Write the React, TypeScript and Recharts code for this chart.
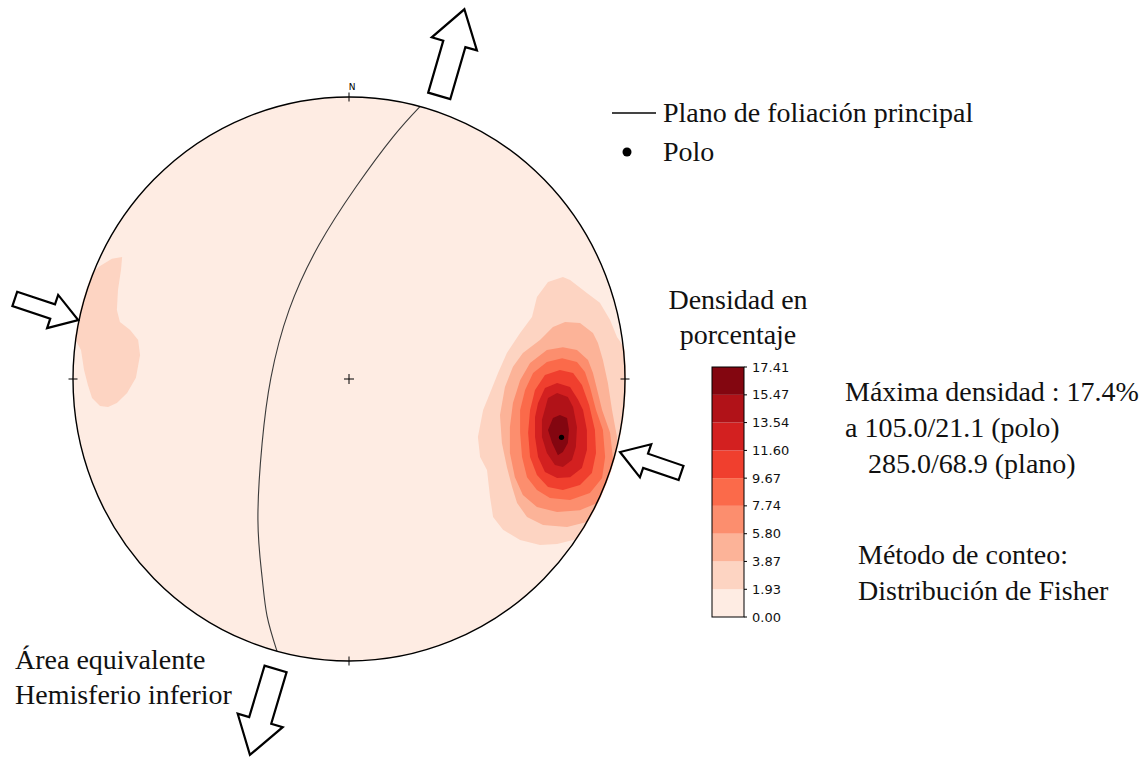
import React from 'react'
import { ScatterChart, Scatter, XAxis, YAxis, BarChart, Bar } from 'recharts'

const W = 1148
const H = 757
// where the net sits on the page: centre and radii in px
const CX = 349
const CY = 379
const RX = 276
const RY = 282

const LEVELS = [0, 1.93, 3.87, 5.8, 7.74, 9.67, 11.6, 13.54, 15.47, 17.41]
const COLORS = ['#feece3', '#fdd4c2', '#fcb398', '#fc8e6e', '#fb6a4a', '#f03f2e', '#d32020', '#b11218', '#830610']

// density contours, equal-area net coordinates (unit circle, N up)
const C1_WEST = [[-0.822, 0.433], [-0.859, 0.426], [-0.902, 0.401], [-0.946, 0.365], [-1.047, 0.316], [-1.011, 0.174], [-0.971, 0.103], [-0.96, 0.032], [-0.946, -0.021], [-0.931, -0.067], [-0.902, -0.096], [-0.873, -0.099], [-0.841, -0.085], [-0.804, -0.05], [-0.772, 0.004], [-0.757, 0.085], [-0.764, 0.138], [-0.793, 0.174], [-0.83, 0.202], [-0.841, 0.245], [-0.837, 0.316], [-0.826, 0.387]]
const C1_EAST = [[0.775, 0.362], [0.801, 0.351], [0.862, 0.305], [0.909, 0.27], [0.946, 0.209], [0.971, 0.149], [1.054, 0.032], [1.054, -0.429], [0.909, -0.553], [0.812, -0.571], [0.754, -0.585], [0.692, -0.589], [0.62, -0.571], [0.558, -0.535], [0.522, -0.489], [0.511, -0.418], [0.5, -0.323], [0.475, -0.277], [0.467, -0.206], [0.486, -0.11], [0.511, -0.05], [0.54, 0.021], [0.572, 0.092], [0.62, 0.163], [0.663, 0.22], [0.681, 0.291], [0.721, 0.344]]
const C2 = [[0.783, 0.202], [0.837, 0.199], [0.884, 0.163], [0.902, 0.128], [0.92, 0.067], [0.938, -0.014], [0.953, -0.11], [0.971, -0.206], [0.971, -0.312], [0.957, -0.394], [0.92, -0.465], [0.862, -0.507], [0.79, -0.525], [0.703, -0.518], [0.645, -0.489], [0.609, -0.44], [0.591, -0.383], [0.572, -0.312], [0.554, -0.227], [0.547, -0.128], [0.565, -0.028], [0.594, 0.043], [0.63, 0.092], [0.692, 0.138], [0.739, 0.184]]
const C3 = [[0.775, 0.113], [0.826, 0.103], [0.866, 0.067], [0.884, 0.021], [0.902, -0.05], [0.917, -0.11], [0.946, -0.191], [0.957, -0.287], [0.946, -0.383], [0.909, -0.436], [0.837, -0.465], [0.754, -0.472], [0.681, -0.454], [0.63, -0.411], [0.601, -0.348], [0.583, -0.262], [0.583, -0.17], [0.594, -0.085], [0.62, -0.004], [0.656, 0.057], [0.717, 0.103]]
const C4 = [[0.772, 0.074], [0.826, 0.06], [0.855, 0.025], [0.873, -0.028], [0.895, -0.11], [0.92, -0.181], [0.928, -0.277], [0.917, -0.351], [0.873, -0.404], [0.801, -0.429], [0.728, -0.422], [0.681, -0.394], [0.645, -0.348], [0.627, -0.277], [0.62, -0.191], [0.62, -0.11], [0.638, -0.039], [0.667, 0.021], [0.717, 0.06]]
const C5 = [[0.764, 0.032], [0.812, 0.021], [0.844, -0.021], [0.87, -0.092], [0.891, -0.181], [0.895, -0.262], [0.88, -0.333], [0.837, -0.376], [0.775, -0.394], [0.721, -0.383], [0.681, -0.34], [0.656, -0.277], [0.649, -0.191], [0.656, -0.11], [0.674, -0.039], [0.71, 0.014]]
const C6 = [[0.754, -0.014], [0.801, -0.028], [0.83, -0.074], [0.848, -0.11], [0.862, -0.181], [0.862, -0.252], [0.844, -0.316], [0.801, -0.348], [0.754, -0.351], [0.71, -0.33], [0.685, -0.277], [0.674, -0.206], [0.674, -0.135], [0.685, -0.085], [0.71, -0.032]]
const C7 = [[0.754, -0.05], [0.793, -0.064], [0.812, -0.099], [0.826, -0.17], [0.822, -0.241], [0.808, -0.287], [0.775, -0.312], [0.746, -0.305], [0.717, -0.262], [0.699, -0.206], [0.699, -0.145], [0.721, -0.067]]
const C8 = [[0.764, -0.128], [0.79, -0.138], [0.797, -0.181], [0.793, -0.227], [0.775, -0.259], [0.757, -0.27], [0.736, -0.227], [0.721, -0.181], [0.739, -0.138]]

// [level index, polygon]
const CONTOURS: [number, number[][]][] = [
  [1, C1_WEST], [1, C1_EAST], [2, C2], [3, C3], [4, C4], [5, C5], [6, C6], [7, C7], [8, C8],
]

// main foliation plane 285/68.9 as drawn
const FOLIATION = [[0.257, 0.966], [0.159, 0.858], [0.025, 0.681], [-0.109, 0.475], [-0.217, 0.245], [-0.283, 0.004], [-0.315, -0.23], [-0.33, -0.5], [-0.315, -0.702], [-0.297, -0.84], [-0.261, -0.965]]
const POLE = [[0.77, -0.207]]

const FRAME = [[-1, 1], [1, -1]]
const CARDINALS = [
  { x: 0, y: 1, d: 'v', label: 'N' },
  { x: 1, y: 0, d: 'h', label: '' },
  { x: 0, y: -1, d: 'v', label: '' },
  { x: -1, y: 0, d: 'h', label: '' },
]
const CENTER = [[0, 0]]

// stress arrows: [tail, tip]
const ARROW_OUT_N = [[0.327, 1.004], [0.418, 1.311]]
const ARROW_OUT_S = [[-0.266, -1.028], [-0.359, -1.333]]
const ARROW_IN_W = [[-1.211, 0.284], [-0.981, 0.209]]
const ARROW_IN_E = [[1.203, -0.333], [0.982, -0.259]]

const pts = (a: number[][]) => a.map(([x, y]) => ({ x, y }))

const Hidden = () => <g />

function ellipseLine(grow: number, style: any) {
  return (p: any) => {
    const [a, b] = p.points
    return (
      <ellipse
        cx={(a.x + b.x) / 2}
        cy={(a.y + b.y) / 2}
        rx={(b.x - a.x) / 2 + grow}
        ry={(b.y - a.y) / 2 + grow}
        {...style}
      />
    )
  }
}

function polyLine(fill: string) {
  return (p: any) => (
    <polygon points={p.points.map((q: any) => `${q.x},${q.y}`).join(' ')} fill={fill} stroke="none" />
  )
}

function arrowLine(shaft: number, head: number, headLen: number) {
  return (p: any) => {
    const [a, b] = p.points
    const dx = b.x - a.x
    const dy = b.y - a.y
    const len = Math.hypot(dx, dy)
    const ux = dx / len, uy = dy / len
    const nx = -uy, ny = ux
    const hb = len - headLen
    const pt = (s: number, t: number) => `${a.x + ux * s + nx * t},${a.y + uy * s + ny * t}`
    const poly = [pt(0, -shaft / 2), pt(hb, -shaft / 2), pt(hb, -head / 2), pt(len, 0), pt(hb, head / 2), pt(hb, shaft / 2), pt(0, shaft / 2)].join(' ')
    return <polygon points={poly} fill="#fff" stroke="#000" strokeWidth={2.2} strokeLinejoin="miter" />
  }
}

const cardinalTick = (p: any) => {
  const { cx, cy, payload } = p
  const s = '#000'
  return (
    <g>
      {payload.d === 'v'
        ? <line x1={cx} x2={cx} y1={cy - 4.5} y2={cy + 4.5} stroke={s} strokeWidth={1} />
        : <line x1={cx - 4.5} x2={cx + 4.5} y1={cy} y2={cy} stroke={s} strokeWidth={1} />}
      {payload.label && (
        <text x={cx + 3} y={cy - 7} textAnchor="middle" fontSize={9} fontFamily="DejaVu Sans" fill="#000">{payload.label}</text>
      )}
    </g>
  )
}

const centerCross = (p: any) => (
  <g stroke="#000" strokeWidth={1}>
    <line x1={p.cx - 5} x2={p.cx + 5} y1={p.cy} y2={p.cy} />
    <line x1={p.cx} x2={p.cx} y1={p.cy - 5} y2={p.cy + 5} />
  </g>
)

const poleDot = (p: any) => <circle cx={p.cx} cy={p.cy} r={2.6} fill="#000" />

const colorbarRow = [
  COLORS.reduce((row: any, _c, i) => {
    row['b' + i] = LEVELS[i + 1] - LEVELS[i]
    return row
  }, { name: 'densidad' }),
]

const serif = 'Liberation Serif, Times New Roman, serif'

function Texts() {
  const t = { fontFamily: serif, fontSize: 28, fill: '#111' }
  return (
    <svg width={W} height={H} style={{ position: 'absolute', left: 0, top: 0, pointerEvents: 'none' }}>
      <line x1={612} x2={656} y1={113} y2={113} stroke="#444" strokeWidth={2} />
      <text x={663} y={122} {...t}>Plano de foliación principal</text>
      <circle cx={627} cy={152} r={4.5} fill="#000" />
      <text x={663} y={161} {...t}>Polo</text>

      <text x={738} y={309} textAnchor="middle" {...t}>Densidad en</text>
      <text x={738} y={344} textAnchor="middle" {...t}>porcentaje</text>
      <rect x={712} y={367} width={32} height={250} fill="none" stroke="#000" strokeWidth={1} />

      <text x={845} y={401} {...t}>Máxima densidad : 17.4%</text>
      <text x={845} y={437} {...t}>a 105.0/21.1 (polo)</text>
      <text x={868} y={473} {...t}>285.0/68.9 (plano)</text>
      <text x={858} y={564} {...t}>Método de conteo:</text>
      <text x={858} y={600} {...t}>Distribución de Fisher</text>
      <text x={15} y={669} {...t}>Área equivalente</text>
      <text x={15} y={704} {...t}>Hemisferio inferior</text>
    </svg>
  )
}

export default function App() {
  const xDomain = [-CX / RX, (W - CX) / RX]
  const yDomain = [-(H - CY) / RY, CY / RY]
  return (
    <div style={{ position: 'absolute', left: 0, top: 0, width: W, height: H, background: '#fff' }}>
      <ScatterChart width={W} height={H} margin={{ top: 0, right: 0, bottom: 0, left: 0 }}>
        <XAxis type="number" dataKey="x" hide domain={xDomain} allowDataOverflow />
        <YAxis type="number" dataKey="y" hide domain={yDomain} allowDataOverflow />

        <Scatter data={pts(FRAME)} shape={Hidden} line={ellipseLine(0, { fill: COLORS[0], stroke: 'none' })} isAnimationActive={false} />
        {CONTOURS.map(([lvl, poly], i) => (
          <Scatter key={'c' + i} data={pts(poly)} shape={Hidden} line={polyLine(COLORS[lvl])} isAnimationActive={false} />
        ))}
        {/* white ring hides contour parts outside the primitive */}
        <Scatter data={pts(FRAME)} shape={Hidden} line={ellipseLine(26, { fill: 'none', stroke: '#fff', strokeWidth: 50 })} isAnimationActive={false} />
        <Scatter data={pts(FOLIATION)} shape={Hidden} line={{ stroke: '#3a3a3a', strokeWidth: 1.1, fill: 'none' }} lineJointType="natural" isAnimationActive={false} />
        <Scatter data={pts(FRAME)} shape={Hidden} line={ellipseLine(0, { fill: 'none', stroke: '#000', strokeWidth: 1.4 })} isAnimationActive={false} />
        <Scatter data={CARDINALS} shape={cardinalTick} isAnimationActive={false} />
        <Scatter data={pts(CENTER)} shape={centerCross} isAnimationActive={false} />
        <Scatter data={pts(POLE)} shape={poleDot} isAnimationActive={false} />

        <Scatter data={pts(ARROW_OUT_N)} shape={Hidden} line={arrowLine(23, 47, 36)} isAnimationActive={false} />
        <Scatter data={pts(ARROW_OUT_S)} shape={Hidden} line={arrowLine(23, 47, 36)} isAnimationActive={false} />
        <Scatter data={pts(ARROW_IN_W)} shape={Hidden} line={arrowLine(15, 35, 27)} isAnimationActive={false} />
        <Scatter data={pts(ARROW_IN_E)} shape={Hidden} line={arrowLine(15, 35, 27)} isAnimationActive={false} />
      </ScatterChart>

      <div style={{ position: 'absolute', left: 700, top: 357 }}>
        <BarChart width={130} height={270} data={colorbarRow} margin={{ top: 10, right: 0, bottom: 10, left: 12 }} barCategoryGap={0}>
          <XAxis dataKey="name" hide />
          <YAxis
            orientation="right"
            type="number"
            width={86}
            domain={[0, LEVELS[LEVELS.length - 1]]}
            ticks={LEVELS}
            interval={0}
            allowDataOverflow
            axisLine={false}
            tickLine={{ stroke: '#000' }}
            tickSize={3}
            tickMargin={5}
            tickFormatter={(v: number) => v.toFixed(2)}
            tick={{ fill: '#111', fontSize: 13, fontFamily: 'DejaVu Sans' }}
          />
          {COLORS.map((c, i) => (
            <Bar key={i} dataKey={'b' + i} stackId="cb" fill={c} isAnimationActive={false} />
          ))}
        </BarChart>
      </div>

      <Texts />
    </div>
  )
}
